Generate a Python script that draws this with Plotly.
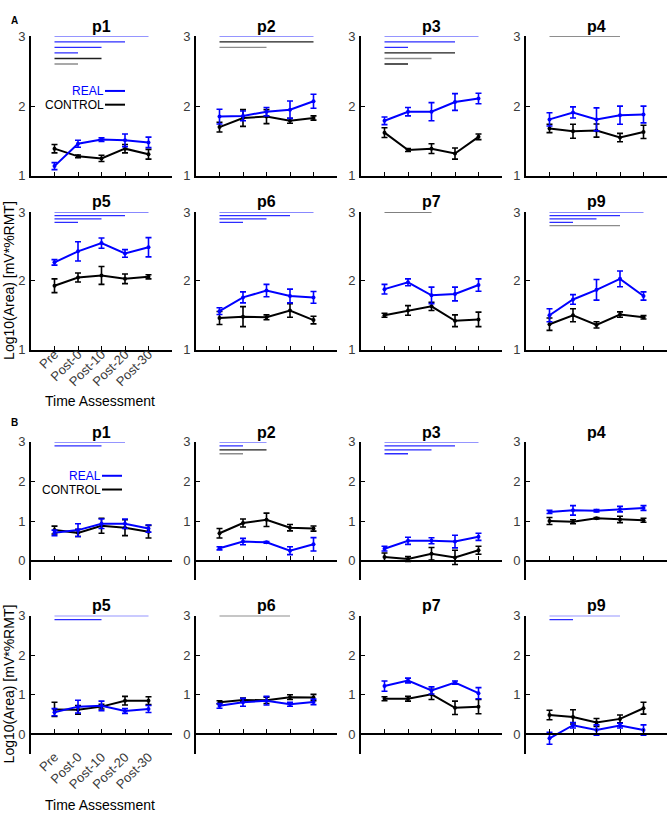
import plotly.graph_objects as go

W, H = 669, 821
FONT = "Liberation Sans, Arial, sans-serif"
BLUE = "#0000ff"
BLACK = "#000000"
SIG_COLORS = {"b": "#2c2cff", "k": "#1e1e1e", "g": "#8c8c8c"}
TICK_GRAY = "#3a3a3a"

names = ["p1", "p2", "p3", "p4", "p5", "p6", "p7", "p9"]
times = ["Pre", "Post-0", "Post-10", "Post-20", "Post-30"]
x_pos = [1, 2, 3, 4, 5]

# ---- panel A ----
a_real = [
    [1.14, 1.46, 1.52, 1.51, 1.48],
    [1.85, 1.86, 1.92, 1.95, 2.07],
    [1.79, 1.92, 1.92, 2.06, 2.11],
    [1.81, 1.91, 1.81, 1.87, 1.88],
    [2.27, 2.43, 2.55, 2.40, 2.49],
    [1.56, 1.76, 1.86, 1.78, 1.76],
    [1.88, 1.98, 1.79, 1.81, 1.94],
    [1.50, 1.73, 1.87, 2.03, 1.78],
]
a_real_err = [
    [0.05, 0.05, 0.025, 0.09, 0.075],
    [0.105, 0.07, 0.06, 0.125, 0.10],
    [0.055, 0.06, 0.13, 0.12, 0.075],
    [0.095, 0.08, 0.165, 0.13, 0.12],
    [0.04, 0.14, 0.075, 0.055, 0.14],
    [0.05, 0.08, 0.09, 0.10, 0.085],
    [0.07, 0.05, 0.12, 0.10, 0.09],
    [0.095, 0.07, 0.15, 0.115, 0.06],
]
a_ctrl = [
    [1.39, 1.28, 1.25, 1.39, 1.31],
    [1.70, 1.83, 1.85, 1.79, 1.83],
    [1.62, 1.37, 1.39, 1.32, 1.56],
    [1.68, 1.64, 1.65, 1.55, 1.63],
    [1.93, 2.05, 2.08, 2.03, 2.06],
    [1.46, 1.48, 1.47, 1.57, 1.43],
    [1.50, 1.57, 1.63, 1.42, 1.44],
    [1.37, 1.50, 1.36, 1.51, 1.47],
]
a_ctrl_err = [
    [0.06, 0.02, 0.045, 0.06, 0.07],
    [0.07, 0.12, 0.10, 0.035, 0.03],
    [0.07, 0.02, 0.07, 0.08, 0.04],
    [0.06, 0.10, 0.095, 0.06, 0.095],
    [0.10, 0.065, 0.13, 0.07, 0.03],
    [0.095, 0.145, 0.035, 0.10, 0.055],
    [0.03, 0.07, 0.06, 0.085, 0.105],
    [0.09, 0.095, 0.045, 0.04, 0.025],
]
# significance bars: (last time point, colour), all start at "Pre"
a_sig = [
    [(5, "b"), (4, "b"), (3, "b"), (2, "b"), (3, "k"), (2, "g")],
    [(5, "b"), (5, "k"), (3, "g")],
    [(5, "b"), (4, "b"), (2, "b"), (4, "k"), (3, "g"), (2, "k")],
    [(4, "k")],
    [(5, "b"), (4, "b"), (3, "b"), (2, "b")],
    [(5, "b"), (4, "b"), (3, "b"), (2, "b")],
    [(3, "k")],
    [(5, "b"), (4, "b"), (3, "b"), (2, "b"), (4, "g")],
]

# ---- panel B ----
b_real = [
    [0.70, 0.77, 0.93, 0.93, 0.81],
    [0.31, 0.48, 0.46, 0.25, 0.41],
    [0.30, 0.50, 0.50, 0.48, 0.60],
    [1.23, 1.27, 1.26, 1.30, 1.33],
    [0.56, 0.70, 0.72, 0.59, 0.64],
    [0.72, 0.81, 0.85, 0.76, 0.82],
    [1.22, 1.36, 1.11, 1.31, 1.04],
    [-0.10, 0.23, 0.11, 0.22, 0.11],
]
b_real_err = [
    [0.07, 0.16, 0.12, 0.12, 0.09],
    [0.04, 0.08, 0.02, 0.10, 0.17],
    [0.06, 0.09, 0.075, 0.16, 0.09],
    [0.04, 0.12, 0.03, 0.07, 0.06],
    [0.09, 0.16, 0.12, 0.06, 0.09],
    [0.06, 0.10, 0.11, 0.05, 0.07],
    [0.13, 0.06, 0.09, 0.04, 0.14],
    [0.15, 0.07, 0.13, 0.06, 0.13],
]
b_ctrl = [
    [0.77, 0.70, 0.88, 0.83, 0.73],
    [0.69, 0.95, 1.03, 0.83, 0.81],
    [0.09, 0.04, 0.17, 0.08, 0.26],
    [1.00, 0.98, 1.07, 1.04, 1.02],
    [0.63, 0.62, 0.70, 0.85, 0.85],
    [0.81, 0.87, 0.86, 0.94, 0.93],
    [0.90, 0.90, 1.01, 0.67, 0.70],
    [0.49, 0.44, 0.30, 0.39, 0.66],
]
b_ctrl_err = [
    [0.10, 0.09, 0.19, 0.20, 0.16],
    [0.12, 0.10, 0.17, 0.08, 0.065],
    [0.10, 0.06, 0.16, 0.18, 0.10],
    [0.09, 0.05, 0.02, 0.08, 0.05],
    [0.18, 0.11, 0.06, 0.11, 0.10],
    [0.04, 0.05, 0.08, 0.06, 0.08],
    [0.05, 0.06, 0.13, 0.17, 0.18],
    [0.12, 0.18, 0.10, 0.10, 0.15],
]
b_sig = [
    [(4, "b"), (3, "b")],
    [(3, "b"), (2, "b"), (3, "k"), (2, "g")],
    [(5, "b"), (4, "b"), (3, "b"), (2, "b")],
    [],
    [(5, "b"), (3, "b")],
    [(4, "k")],
    [],
    [(4, "b"), (2, "b")],
]


def px_x(x):
    return x / W


def px_y(y):
    return 1 - y / H


col_left = [31, 196, 361, 526]
ax_w = 141

panels = [
    dict(letter="A", letter_y=14, real=a_real, real_err=a_real_err,
         ctrl=a_ctrl, ctrl_err=a_ctrl_err, sig=a_sig,
         rows=[(30, 172), (209, 349)], title_y=[20, 198], step=[0.079, 0.049],
         yrange=[1, 3], yticks=[1, 2, 3], ylabel_y=279, xlabel_y=401,
         legend_y=(85.5, 99.5), legend_x=104, standoff=-10),
    dict(letter="B", letter_y=423, real=b_real, real_err=b_real_err,
         ctrl=b_ctrl, ctrl_err=b_ctrl_err, sig=b_sig,
         rows=[(443, 584), (620, 761)], title_y=[433, 610], step=[0.1, 0.1],
         yrange=[-0.5, 3], yticks=[0, 1, 2, 3], ylabel_y=690, xlabel_y=813,
         legend_y=(477.5, 491.5), legend_x=101, standoff=9),
]

fig = go.Figure()
layout = {}
annotations = []
shapes = []

k = 0
for p in panels:
    for i, name in enumerate(names):
        k += 1
        row, col = divmod(i, 4)
        top, bottom = p["rows"][row]
        left = col_left[col]
        y0, y1 = p["yrange"]
        # pixel row of y = 0 (panel B axis crosses there)
        zero_px = bottom - (max(0, y0) - y0) * (bottom - top) / (y1 - y0)
        show_lbl = (name == "p5")

        xa = dict(domain=[px_x(left), px_x(left + ax_w)], range=[0, 6],
                  tickvals=x_pos, ticktext=times, showticklabels=show_lbl,
                  tickangle=-45, tickfont=dict(size=13, color=TICK_GRAY),
                  ticks="inside", ticklen=4, tickwidth=1.2, tickcolor=BLACK,
                  showline=True, linecolor=BLACK, linewidth=2,
                  showgrid=False, zeroline=False,
                  ticklabelstandoff=p["standoff"])
        if y0 < 0:
            xa.update(anchor="free", position=px_y(zero_px))
        else:
            xa.update(anchor=f"y{k}")
        ya = dict(domain=[px_y(bottom), px_y(top)], range=p["yrange"],
                  tickvals=p["yticks"], anchor=f"x{k}",
                  tickfont=dict(size=13, color=TICK_GRAY),
                  ticks="inside", ticklen=4, tickwidth=1.2, tickcolor=BLACK,
                  showline=True, linecolor=BLACK, linewidth=2,
                  showgrid=False, zeroline=False, ticklabelstandoff=1)
        layout[f"xaxis{k}"] = xa
        layout[f"yaxis{k}"] = ya

        # significance bars
        for j, (end, c) in enumerate(p["sig"][i]):
            yv = y1 - j * p["step"][row]
            fig.add_trace(go.Scatter(
                x=[1, end], y=[yv, yv], mode="lines",
                line=dict(color=SIG_COLORS[c], width=1.3),
                xaxis=f"x{k}", yaxis=f"y{k}", showlegend=False,
                cliponaxis=False, hoverinfo="skip"))

        for vals, errs, c in [(p["ctrl"][i], p["ctrl_err"][i], BLACK),
                              (p["real"][i], p["real_err"][i], BLUE)]:
            fig.add_trace(go.Scatter(
                x=x_pos, y=vals, mode="lines+markers",
                line=dict(color=c, width=2), marker=dict(size=4, color=c),
                error_y=dict(type="data", array=errs, color=c,
                             thickness=1.6, width=3),
                xaxis=f"x{k}", yaxis=f"y{k}", showlegend=False,
                cliponaxis=False))

        annotations.append(dict(
            text=f"<b>{name}</b>", x=px_x(left + ax_w / 2),
            y=px_y(p["title_y"][row]), xref="paper", yref="paper",
            showarrow=False, font=dict(size=16, color=BLACK),
            xanchor="center", yanchor="middle"))

    # panel letter
    annotations.append(dict(
        text=f"<b>{p['letter']}</b>", x=px_x(9), y=px_y(p["letter_y"]),
        xref="paper", yref="paper", showarrow=False,
        font=dict(size=10, color=BLACK), xanchor="left", yanchor="middle"))
    # axis labels
    annotations.append(dict(
        text="Log10(Area) [mV*%RMT]", x=px_x(9), y=px_y(p["ylabel_y"]),
        xref="paper", yref="paper", showarrow=False, textangle=-90,
        font=dict(size=14, color=BLACK), xanchor="center", yanchor="middle"))
    annotations.append(dict(
        text="Time Assessment", x=px_x(100), y=px_y(p["xlabel_y"]),
        xref="paper", yref="paper", showarrow=False,
        font=dict(size=14, color=BLACK), xanchor="center", yanchor="middle"))
    # in-plot legend of p1
    for lbl, c, ly in [("REAL", BLUE, p["legend_y"][0]),
                       ("CONTROL", BLACK, p["legend_y"][1])]:
        annotations.append(dict(
            text=lbl, x=px_x(p["legend_x"] + 1), y=px_y(ly),
            xref="paper", yref="paper", showarrow=False, borderpad=0,
            font=dict(size=12, color=c), xanchor="right", yanchor="middle"))
        shapes.append(dict(
            type="line", xref="paper", yref="paper",
            x0=px_x(p["legend_x"] + 1), x1=px_x(p["legend_x"] + 21),
            y0=px_y(ly), y1=px_y(ly), line=dict(color=c, width=2)))

fig.update_layout(
    width=W, height=H,
    margin=dict(l=0, r=0, t=0, b=0),
    paper_bgcolor="white", plot_bgcolor="white",
    font=dict(family=FONT, color=BLACK),
    annotations=annotations, shapes=shapes,
    **layout)

fig.write_html("out.html", config={"displayModeBar": False},
               post_script="document.body.style.margin='0';")
